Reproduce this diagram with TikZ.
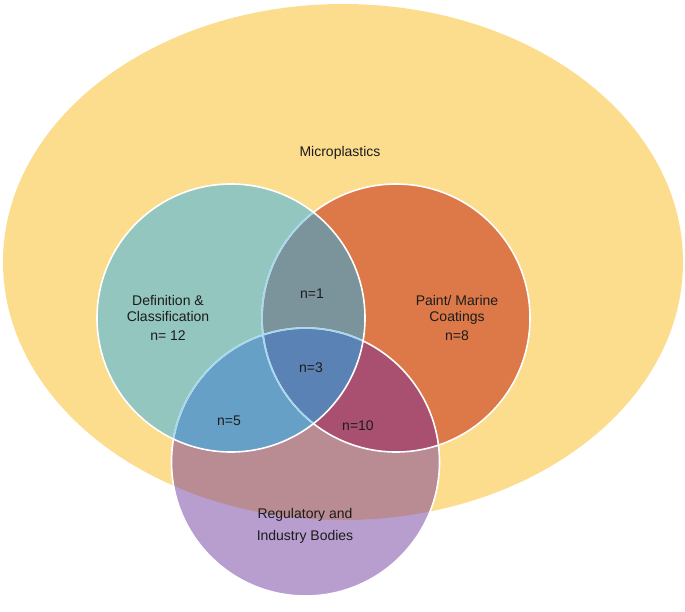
\documentclass[tikz,border=0pt]{standalone}
\usepackage{fontspec}
\setmainfont{Liberation Sans}
\definecolor{cYel}{HTML}{FCDD8E}
\definecolor{cTeal}{HTML}{93C6BE}
\definecolor{cOra}{HTML}{DD7849}
\definecolor{cTO}{HTML}{7B939A}
\definecolor{cPur}{HTML}{B89DCF}
\definecolor{cPY}{HTML}{B98C93}
\definecolor{cPT}{HTML}{66A0C6}
\definecolor{cPO}{HTML}{A94F70}
\definecolor{cPTO}{HTML}{5A82B4}
\definecolor{cEdge}{HTML}{A6D8F0}
\definecolor{cTxt}{HTML}{1C1C1C}
\begin{document}
\begin{tikzpicture}[x=1pt,y=-1pt,
  lbl/.style={text=cTxt,font=\fontsize{14}{15.5}\selectfont,align=center,inner sep=0pt},
  rim/.style={draw=white,line width=1.6pt},
  inrim/.style={draw=cEdge,line width=1.6pt}]
\useasboundingbox (0,0) rectangle (685,611);
\def\Ell{(343,262) ellipse [x radius=340, y radius=258]}
\def\T{(231,318) circle [radius=134]}
\def\O{(396,318) circle [radius=134]}
\def\P{(305.5,462) circle [radius=134]}
% base regions
\fill[cYel] \Ell;
\fill[cTeal] \T;
\fill[cOra] \O;
\begin{scope}\clip \T; \fill[cTO] \O; \end{scope}
\fill[cPur] \P;
\begin{scope}
  \clip \P;
  \fill[cPY] \Ell;
  \fill[cPT] \T;
  \fill[cPO] \O;
  \clip \T; \fill[cPTO] \O;
\end{scope}
% outlines
\draw[rim] \O;
\draw[rim] \P;
\begin{scope}\clip \T; \draw[inrim] \O; \draw[inrim] \P; \end{scope}
\draw[rim] \T;
% labels
\node[lbl] (micro) at (340,153) {Microplastics};
\node[lbl] (def) at (168,318) {Definition \&\\Classification\\[4pt]n= 12};
\node[lbl] (paint) at (457,318) {Paint/ Marine\\Coatings\\[4pt]n=8};
\node[lbl] (n1) at (312,294) {n=1};
\node[lbl] (n3) at (311,368) {n=3};
\node[lbl] (n5) at (229,421) {n=5};
\node[lbl] (n10) at (358,426) {n=10};
\node[lbl,font=\fontsize{14}{22}\selectfont] (reg) at (305,526) {Regulatory and\\Industry Bodies};
\end{tikzpicture}
\end{document}
